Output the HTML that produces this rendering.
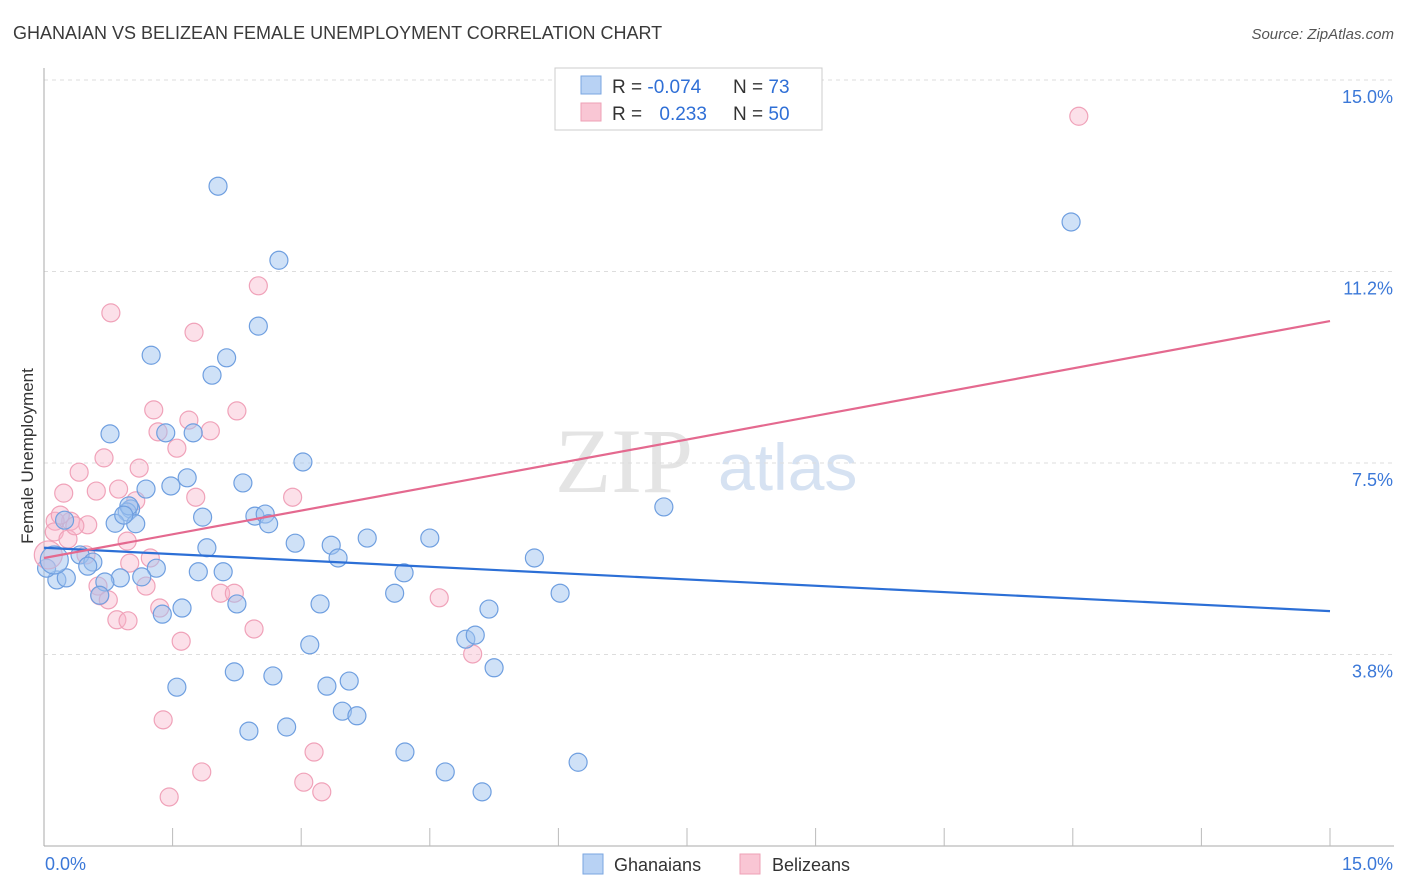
<!DOCTYPE html>
<html><head><meta charset="utf-8"><style>
body{margin:0;background:#fff;font-family:"Liberation Sans",sans-serif}
svg{display:block}
</style></head><body>
<svg id="chart" width="1406" height="892" xmlns="http://www.w3.org/2000/svg">
<text x="13" y="39" font-size="18" fill="#3a3a3a" font-family="Liberation Sans, sans-serif">GHANAIAN VS BELIZEAN FEMALE UNEMPLOYMENT CORRELATION CHART</text>
<text x="1394" y="39" font-size="15" fill="#555" font-style="italic" text-anchor="end" font-family="Liberation Sans, sans-serif">Source: ZipAtlas.com</text>
<text transform="translate(33,456) rotate(-90)" font-size="17" fill="#333" text-anchor="middle">Female Unemployment</text>
<g>
<text x="555" y="492" font-size="92" fill="#e4e4e4" font-family="Liberation Serif, serif">ZIP</text>
<text x="718" y="490" font-size="66" fill="#d6e2f2">atlas</text>
</g>
<g id="grid"></g><g id="axes"></g><g id="pts"></g><g id="lines"></g>
<g>
<rect x="555" y="68" width="267" height="62" fill="#fff" stroke="#ccc"/>
<rect x="581" y="76" width="20" height="18" fill="#b8d2f4" stroke="#7aa6e0"/>
<rect x="581" y="103" width="20" height="18" fill="#f9c6d4" stroke="#eea0b6"/>
<text x="612" y="93" font-size="19" fill="#333">R = <tspan fill="#2f6fd6">-0.074</tspan></text>
<text x="733" y="93" font-size="19" fill="#333">N = <tspan fill="#2f6fd6">73</tspan></text>
<text x="612" y="120" font-size="19" fill="#333">R = <tspan fill="#2f6fd6" dx="12">0.233</tspan></text>
<text x="733" y="120" font-size="19" fill="#333">N = <tspan fill="#2f6fd6">50</tspan></text>
</g>
<g>
<rect x="583" y="854" width="20" height="20" fill="#b8d2f4" stroke="#7aa6e0"/>
<text x="614" y="871" font-size="18" fill="#333">Ghanaians</text>
<rect x="740" y="854" width="20" height="20" fill="#f9c6d4" stroke="#eea0b6"/>
<text x="772" y="871" font-size="18" fill="#333">Belizeans</text>
</g>
</svg>
<script>
const yTicks=[3.75,7.5,11.25,15];
const yTickLabels=["3.8%","7.5%","11.2%","15.0%"];
const xTickCount=10;
const blueX=[2.03,2.74,2.50,1.25,2.13,1.96,0.77,1.42,1.74,3.02,1.67,2.32,1.48,1.19,7.23,1.01,0.97,1.85,0.83,1.07,2.46,2.58,2.62,2.93,3.35,3.77,4.50,1.90,0.42,0.57,0.51,3.43,5.72,1.31,0.15,0.26,0.89,0.71,1.14,1.80,2.09,4.20,0.65,4.09,6.02,2.25,3.22,1.61,5.19,1.38,4.92,5.03,3.10,5.25,1.55,2.22,2.67,3.30,3.56,3.48,3.65,2.39,2.83,4.21,4.68,5.11,6.23,11.98,0.03,0.24,0.99,0.93];
const blueY=[12.92,11.47,10.18,9.61,9.56,9.22,8.07,8.09,8.09,7.52,7.21,7.11,7.05,6.99,6.64,6.60,6.54,6.44,6.32,6.31,6.46,6.50,6.31,5.93,5.89,6.03,6.03,5.84,5.70,5.56,5.48,5.64,5.64,5.44,5.21,5.25,5.25,5.17,5.27,5.37,5.37,5.35,4.91,4.95,4.95,4.74,4.74,4.66,4.64,4.54,4.05,4.13,3.94,3.49,3.11,3.41,3.33,3.13,3.23,2.64,2.55,2.25,2.33,1.84,1.45,1.06,1.64,12.22,5.44,6.38,6.66,6.48];
const pinkX=[12.07,2.50,0.78,1.75,1.28,2.25,1.69,1.33,1.94,1.55,0.70,0.41,1.11,0.23,0.61,0.87,1.77,2.90,1.07,0.31,0.51,0.13,0.12,0.28,0.36,1.00,1.24,0.63,1.19,2.06,2.22,0.65,0.75,4.61,1.35,0.85,0.98,2.45,1.60,5.00,1.39,1.84,3.15,3.03,3.24,1.46,0.19,0.49,0.97];
const pinkY=[14.29,10.97,10.44,10.06,8.54,8.52,8.34,8.11,8.13,7.79,7.60,7.32,7.40,6.91,6.95,6.99,6.83,6.83,6.76,6.36,6.29,6.36,6.15,6.01,6.27,5.54,5.64,5.09,5.09,4.95,4.95,4.90,4.82,4.86,4.66,4.43,4.41,4.25,4.01,3.76,2.47,1.45,1.84,1.25,1.06,0.96,6.48,5.70,5.97];
const bigBlue=[0.12,5.60], bigPink=[0.05,5.70];
const blueTrend=[5.84,4.60], pinkTrend=[5.64,10.28];
const NS="http://www.w3.org/2000/svg";
const sx=v=>44+v*(1286/15), sy=v=>846-v*(766/15);
function mk(tag,attrs,parent){const e=document.createElementNS(NS,tag);for(const k in attrs)e.setAttribute(k,attrs[k]);parent.appendChild(e);return e;}
const grid=document.getElementById('grid'),axes=document.getElementById('axes'),pts=document.getElementById('pts'),lines=document.getElementById('lines');
yTicks.forEach((t,i)=>{
 const l=mk('line',{x1:44,x2:1394,y1:sy(t),y2:sy(t),stroke:'#ddd','stroke-dasharray':'4,4'},grid);
 
 
 const tx=mk('text',{x:1393,y:sy(t)+23,'font-size':18,fill:'#3b78d8','text-anchor':'end'},axes);
 tx.textContent=yTickLabels[i];
 
 
});
let a=mk('line',{x1:44,x2:44,y1:68,y2:846,stroke:'#aaa'},axes);


a=mk('line',{x1:44,x2:1394,y1:846,y2:846,stroke:'#aaa'},axes);


for(let i=1;i<=xTickCount;i++){const x=sx(i*1.5);const t=mk('line',{x1:x,x2:x,y1:828,y2:846,stroke:'#bbb'},axes);
 
 }
let t=mk('text',{x:45,y:870,'font-size':18,fill:'#3b78d8'},axes);t.textContent='0.0%';


t=mk('text',{x:1393,y:870,'font-size':18,fill:'#3b78d8','text-anchor':'end'},axes);t.textContent='15.0%';


function dot(x,y,r,blue){const c=mk('circle',{cx:sx(x),cy:sy(y),r:r,fill:blue?'rgba(160,196,240,0.5)':'rgba(248,182,202,0.42)',stroke:blue?'#6f9fe0':'#f0a2b9','stroke-width':1.2},pts);
 
 }
pinkX.forEach((x,i)=>dot(x,pinkY[i],9,false));
blueX.forEach((x,i)=>dot(x,blueY[i],9,true));
dot(bigPink[0],bigPink[1],14,false);
dot(bigBlue[0],bigBlue[1],14,true);
let ln=mk('line',{x1:sx(0),y1:sy(blueTrend[0]),x2:sx(15),y2:sy(blueTrend[1]),stroke:'#2c6fd6','stroke-width':2.2},lines);


ln=mk('line',{x1:sx(0),y1:sy(pinkTrend[0]),x2:sx(15),y2:sy(pinkTrend[1]),stroke:'#e4698f','stroke-width':2.2},lines);


</script>
</body></html>
